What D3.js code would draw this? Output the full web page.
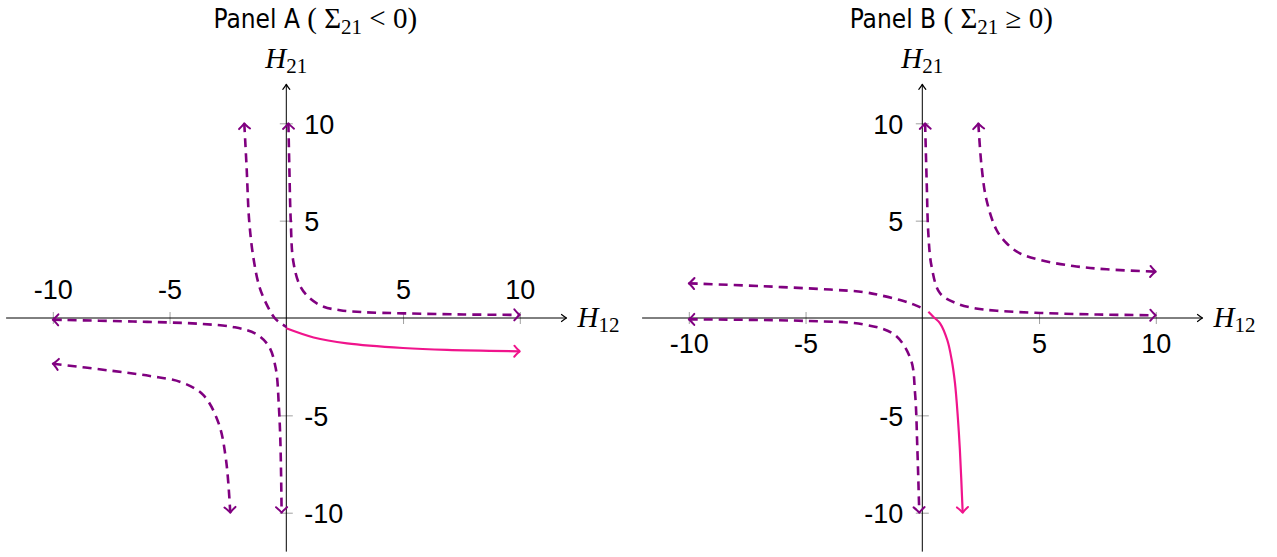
<!DOCTYPE html>
<html>
<head>
<meta charset="utf-8">
<style>
    body { margin: 0; background: #fff; }
    .tick line { stroke: #a0a0a0; stroke-width: 1; }
    .tick text { font-family: "Liberation Sans", Arial, sans-serif; font-size: 27px; fill: #000; }
    .sans { font-family: "DejaVu Sans", sans-serif; font-stretch: condensed; }
    .math { font-family: "Liberation Serif", serif; }
</style>
</head>
<body>
<svg id="chart" width="1277" height="557"></svg>
<script src="https://cdn.jsdelivr.net/npm/d3@7/dist/d3.min.js"></script>
<script>
// axis ticks (same for both panels)
const xTicks = [-10, -5, 5, 10]
const yTicks = [-10, -5, 5, 10]
const axisExtent = [-12, 12]

// Panel A curves, points as [H12, H21]
const aNE = [[0.09, 10], [0.13, 7.75], [0.19, 5], [0.3, 2.9], [0.59, 1.65], [1.02, 1.0], [1.6, 0.58], [2.3, 0.4], [3.3, 0.3], [5, 0.24], [7.6, 0.18], [10, 0.16]]
const aNW = [[-1.8, 10], [-1.7, 7.75], [-1.59, 5], [-1.41, 3.1], [-1.15, 1.6], [-0.8, 0.6], [-0.5, 0], [-0.2, -0.3], [0.02, -0.47]]
const aW = [[-10, -0.09], [-6.56, -0.18], [-3.7, -0.3], [-2.2, -0.48], [-1.3, -0.82], [-0.75, -1.45], [-0.45, -2.6], [-0.32, -4.5], [-0.25, -6.5], [-0.2, -10]]
const aSW = [[-10, -2.35], [-7.56, -2.7], [-5.84, -2.98], [-4.5, -3.3], [-3.56, -3.95], [-2.9, -5.4], [-2.58, -7.3], [-2.4, -10]]
const aPink = [[0, -0.53], [1.17, -1.0], [2.6, -1.3], [5, -1.54], [6.88, -1.64], [10, -1.71]]

// Panel B curves
const bNW = [[-10, 1.78], [-6.8, 1.63], [-3.95, 1.46], [-2.5, 1.33], [-1.81, 1.17], [-0.95, 0.92], [-0.38, 0.7], [0.05, 0.48]]
const bNE = [[0.12, 10], [0.19, 6.9], [0.26, 4.3], [0.4, 2.63], [0.76, 1.27], [1.47, 0.75], [2.3, 0.49], [3.2, 0.37], [5.04, 0.26], [7.5, 0.18], [10, 0.14]]
const bFar = [[2.4, 10], [2.54, 7.77], [2.75, 6.06], [3.18, 4.52], [3.61, 3.84], [4.18, 3.32], [5.04, 2.98], [6.46, 2.67], [7.9, 2.5], [10, 2.38]]
const bSW = [[-10, -0.07], [-5, -0.15], [-2.52, -0.33], [-1.2, -0.85], [-0.5, -2.1], [-0.31, -3.87], [-0.21, -6.78], [-0.13, -10]]
const bPink = [[0.26, 0.32], [0.5, 0.03], [0.76, -0.27], [1.07, -1.13], [1.26, -2.16], [1.4, -3.35], [1.52, -5.07], [1.61, -6.78], [1.73, -10]]

const purple = "#800080"
const pink = "#f0148c"

// which curves go where, and which ends get an arrow
const panels = [
    { title: "Panel A", rel: "<", cx: 286.3, cy: 318, xLabelsAbove: true, yLabelsRight: true,
      curves: [
          { pts: aNE, dashed: true, start: true, end: true },
          { pts: aNW, dashed: true, start: true, end: false },
          { pts: aW, dashed: true, start: true, end: true },
          { pts: aSW, dashed: true, start: true, end: true },
          { pts: aPink, dashed: false, start: false, end: true }
      ] },
    { title: "Panel B", rel: "\u2265", cx: 922.3, cy: 318, xLabelsAbove: false, yLabelsRight: false,
      curves: [
          { pts: bNW, dashed: true, start: true, end: false },
          { pts: bNE, dashed: true, start: true, end: true },
          { pts: bFar, dashed: true, start: true, end: true },
          { pts: bSW, dashed: true, start: true, end: true },
          { pts: bPink, dashed: false, start: false, end: true }
      ] }
]

const ux = 23.35   // px per unit, horizontal
const uy = 19.47   // px per unit, vertical

let svg = d3.select("#chart")
let defs = svg.append("defs")

function addMarker(id, color, d, width) {
    defs.append("marker")
        .attr("id", id)
        .attr("markerUnits", "userSpaceOnUse")
        .attr("markerWidth", 1).attr("markerHeight", 1)
        .attr("refX", 0).attr("refY", 0)
        .attr("orient", "auto-start-reverse")
        .style("overflow", "visible")
        .append("path")
        .attr("d", d)
        .attr("fill", "none")
        .attr("stroke", color)
        .attr("stroke-width", width)
        .attr("stroke-dasharray", "none")
        .attr("stroke-linecap", "round")
        .attr("stroke-linejoin", "round")
}
addMarker("axisArrow", "#000", "M-5,-3.5 Q-1.5,-0.8 0,0 Q-1.5,0.8 -5,3.5", 1.2)
addMarker("arrowPurple", purple, "M-5.5,-5.5 Q-1.8,-1.2 0,0 Q-1.8,1.2 -5.5,5.5", 2)
addMarker("arrowPink", pink, "M-5.5,-5.5 Q-1.8,-1.2 0,0 Q-1.8,1.2 -5.5,5.5", 2)

const fmt = d => String(d)   // plain hyphen minus like the original

panels.forEach(p => {
    let g = svg.append("g")
    let x = d3.scaleLinear().domain(axisExtent).range([p.cx - 12 * ux, p.cx + 12 * ux])
    let y = d3.scaleLinear().domain(axisExtent).range([p.cy + 12 * uy, p.cy - 12 * uy])

    // ticks + labels via d3 axes, domain replaced by own arrow lines
    let xa = g.append("g")
        .attr("transform", `translate(0,${p.cy})`)
        .call(d3.axisBottom(x).tickValues(xTicks).tickFormat(fmt).tickSizeOuter(0))
    xa.select(".domain").remove()
    xa.selectAll(".tick line").attr("y1", -6).attr("y2", 6)
    xa.selectAll(".tick text")
        .attr("y", p.xLabelsAbove ? -19 : 35)
        .attr("dy", 0)

    let ya = g.append("g")
        .attr("transform", `translate(${p.cx},0)`)
        .call(d3.axisLeft(y).tickValues(yTicks).tickFormat(fmt).tickSizeOuter(0))
    ya.select(".domain").remove()
    ya.selectAll(".tick line").attr("x1", -6.5).attr("x2", 6.5)
    ya.selectAll(".tick text")
        .attr("x", p.yLabelsRight ? 18 : -19)
        .attr("dy", "0.36em")
        .attr("text-anchor", p.yLabelsRight ? "start" : "end")

    // axis lines with arrows
    g.append("line")
        .attr("x1", x(-12)).attr("x2", x(12))
        .attr("y1", p.cy).attr("y2", p.cy)
        .attr("stroke", "#000").attr("stroke-width", 1)
        .attr("marker-end", "url(#axisArrow)")
    g.append("line")
        .attr("x1", p.cx).attr("x2", p.cx)
        .attr("y1", y(-12)).attr("y2", y(12))
        .attr("stroke", "#000").attr("stroke-width", 1)
        .attr("marker-end", "url(#axisArrow)")

    // axis names
    let hx = g.append("text").attr("class", "math")
        .attr("x", x(12) + 11).attr("y", p.cy + 9)
        .attr("font-size", 29)
    hx.append("tspan").attr("font-style", "italic").text("H")
    hx.append("tspan").attr("font-size", 21).attr("dy", 5).text("12")

    let hy = g.append("text").attr("class", "math")
        .attr("x", p.cx).attr("y", 68)
        .attr("text-anchor", "middle")
        .attr("font-size", 29)
    hy.append("tspan").attr("font-style", "italic").text("H")
    hy.append("tspan").attr("font-size", 21).attr("dy", 5).text("21")

    // panel title
    let t = g.append("text")
        .attr("x", p.cx + 29).attr("y", 28)
        .attr("text-anchor", "middle")
        .attr("font-size", 26)
    t.append("tspan").attr("class", "sans").text(p.title + " ")
    t.append("tspan").attr("class", "math").attr("font-size", 29).text("( \u03A3")
    t.append("tspan").attr("class", "math").attr("font-size", 21).attr("dy", 6).text("21")
    t.append("tspan").attr("class", "math").attr("font-size", 29).attr("dy", -6).text(" " + p.rel + " 0)")

    // curves
    let line = d3.line()
        .x(d => x(d[0]))
        .y(d => y(d[1]))
        .curve(d3.curveCatmullRom.alpha(0.5))

    g.selectAll(".curve")
        .data(p.curves)
        .enter()
        .append("path")
        .attr("class", "curve")
        .attr("d", c => line(c.pts))
        .attr("fill", "none")
        .attr("stroke", c => c.dashed ? purple : pink)
        .attr("stroke-width", c => c.dashed ? 2.6 : 2.2)
        .attr("stroke-dasharray", c => c.dashed ? "9,6" : null)
        .attr("marker-start", c => c.start ? (c.dashed ? "url(#arrowPurple)" : "url(#arrowPink)") : null)
        .attr("marker-end", c => c.end ? (c.dashed ? "url(#arrowPurple)" : "url(#arrowPink)") : null)
})
</script>
</body>
</html>
